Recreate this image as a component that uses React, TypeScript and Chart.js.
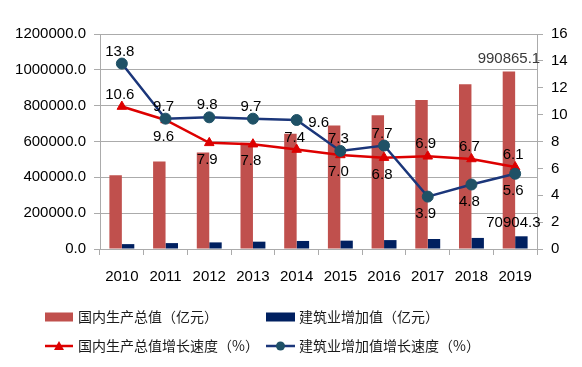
import React, { useEffect, useRef } from 'react';
import { Chart, registerables } from 'chart.js';

Chart.register(...registerables);

// ---- data ----
const years = ['2010', '2011', '2012', '2013', '2014', '2015', '2016', '2017', '2018', '2019'];
const gdpValue = [412119.3, 487940.2, 538580.0, 592963.2, 643563.1, 688858.2, 746395.1, 832035.9, 919281.1, 990865.1];
const constructionValue = [27259.3, 32926.5, 36896.1, 40896.8, 44880.5, 46626.7, 49702.9, 55689.0, 61808.0, 70904.3];
const gdpGrowth = [10.6, 9.6, 7.9, 7.8, 7.4, 7.0, 6.8, 6.9, 6.7, 6.1];
const constructionGrowth = [13.8, 9.7, 9.8, 9.7, 9.6, 7.3, 7.7, 3.9, 4.8, 5.6];
const leftTicks = [0, 200000, 400000, 600000, 800000, 1000000, 1200000];
const rightTicks = [0, 2, 4, 6, 8, 10, 12, 14, 16];

const seriesNames = [
  '国内生产总值（亿元）',
  '建筑业增加值（亿元）',
  '国内生产总值增长速度（%）',
  '建筑业增加值增长速度（%）',
];

// label placement for line points
const gdpGrowthLabelPos = ['above', 'below', 'below', 'below', 'above', 'below', 'below', 'above', 'above', 'above'];
const constructionGrowthLabelPos = ['above', 'above', 'above', 'above', 'right', 'above', 'above', 'below', 'below', 'below'];

const RED_BAR = '#C0504D';
const BLUE_BAR = '#002060';
const RED_LINE = '#DD0000';
const BLUE_LINE = '#1B367A';
const BLUE_MARK = '#1F5166';
const GRID = '#ababab';
const FONT = '"Liberation Sans", Arial, sans-serif';
const CJK = '"Noto Sans CJK SC", "Liberation Sans", sans-serif';

const labelPlugin = {
  id: 'valueLabels',
  afterDatasetsDraw(chart: any) {
    const ctx = chart.ctx;
    ctx.save();
    ctx.font = '15px ' + FONT;
    ctx.textAlign = 'center';
    ctx.textBaseline = 'middle';
    const lineSpecs: [number, string[]][] = [
      [2, gdpGrowthLabelPos],
      [3, constructionGrowthLabelPos],
    ];
    lineSpecs.forEach(([di, pos]) => {
      const meta = chart.getDatasetMeta(di);
      const data = chart.data.datasets[di].data as number[];
      meta.data.forEach((pt: any, i: number) => {
        const p = pos[i];
        let x = pt.x;
        let y = pt.y;
        if (p === 'above') y -= 12;
        else if (p === 'below') y += 17;
        else if (p === 'right') {
          x += 24;
          y += 3;
        }
        ctx.fillStyle = '#000';
        ctx.fillText(data[i].toFixed(1), x - 2, y);
      });
    });
    const barSpecs: [number, number, string][] = [
      [0, 0, '#3a3a3a'],
      [1, -8, '#000'],
    ];
    barSpecs.forEach(([di, dx, color]) => {
      const meta = chart.getDatasetMeta(di);
      const data = chart.data.datasets[di].data as number[];
      const last = data.length - 1;
      const bar = meta.data[last];
      ctx.fillStyle = color;
      ctx.fillText(data[last].toFixed(1), bar.x + dx, bar.y - 13);
    });
    ctx.restore();
  },
};

const legendPlugin = {
  id: 'customLegend',
  afterDraw(chart: any) {
    const ctx = chart.ctx;
    ctx.save();
    ctx.font = '14px ' + CJK;
    ctx.textBaseline = 'middle';
    ctx.textAlign = 'left';
    const col1 = 45;
    const col2 = 266;
    const row1 = 317;
    const row2 = 346;
    ctx.fillStyle = RED_BAR;
    ctx.fillRect(col1, row1 - 4.5, 28, 9);
    ctx.fillStyle = BLUE_BAR;
    ctx.fillRect(col2, row1 - 4.5, 29, 9);
    ctx.lineWidth = 2.5;
    ctx.strokeStyle = RED_LINE;
    ctx.beginPath();
    ctx.moveTo(col1, row2);
    ctx.lineTo(col1 + 28, row2);
    ctx.stroke();
    ctx.fillStyle = RED_LINE;
    ctx.beginPath();
    ctx.moveTo(col1 + 14, row2 - 5);
    ctx.lineTo(col1 + 19, row2 + 4);
    ctx.lineTo(col1 + 9, row2 + 4);
    ctx.closePath();
    ctx.fill();
    ctx.strokeStyle = BLUE_LINE;
    ctx.beginPath();
    ctx.moveTo(col2, row2);
    ctx.lineTo(col2 + 29, row2);
    ctx.stroke();
    ctx.fillStyle = BLUE_MARK;
    ctx.beginPath();
    ctx.arc(col2 + 14.5, row2, 4.5, 0, Math.PI * 2);
    ctx.fill();
    ctx.fillStyle = '#1a1a1a';
    ctx.fillText(seriesNames[0], col1 + 33, row1);
    ctx.fillText(seriesNames[1], col2 + 33, row1);
    ctx.fillText(seriesNames[2], col1 + 33, row2);
    ctx.fillText(seriesNames[3], col2 + 33, row2);
    ctx.restore();
  },
};

export default function App() {
  const canvasRef = useRef<HTMLCanvasElement | null>(null);

  useEffect(() => {
    document.body.style.margin = '0';
    const canvas = canvasRef.current;
    if (!canvas) return;
    const chart = new Chart(canvas, {
      type: 'bar',
      data: {
        labels: years,
        datasets: [
          {
            type: 'bar',
            label: seriesNames[0],
            data: gdpValue,
            backgroundColor: RED_BAR,
            yAxisID: 'y',
            order: 3,
            categoryPercentage: 0.57,
            barPercentage: 1,
          },
          {
            type: 'bar',
            label: seriesNames[1],
            data: constructionValue,
            backgroundColor: BLUE_BAR,
            yAxisID: 'y',
            order: 3,
            categoryPercentage: 0.57,
            barPercentage: 1,
          },
          {
            type: 'line',
            label: seriesNames[2],
            data: gdpGrowth,
            borderColor: RED_LINE,
            backgroundColor: RED_LINE,
            borderWidth: 2.5,
            pointStyle: 'triangle',
            pointRadius: 5.5,
            pointBorderWidth: 1,
            pointBorderColor: RED_LINE,
            yAxisID: 'y1',
            order: 2,
          },
          {
            type: 'line',
            label: seriesNames[3],
            data: constructionGrowth,
            borderColor: BLUE_LINE,
            backgroundColor: BLUE_MARK,
            borderWidth: 2.5,
            pointStyle: 'circle',
            pointRadius: 5.5,
            pointBorderWidth: 1,
            pointBorderColor: BLUE_MARK,
            yAxisID: 'y1',
            order: 1,
          },
        ],
      } as any,
      options: {
        responsive: false,
        animation: false,
        layout: { padding: { top: 34, bottom: 78, left: 0, right: 0 } },
        plugins: {
          legend: { display: false },
          tooltip: { enabled: false },
        },
        scales: {
          x: {
            offset: true,
            grid: {
              offset: true,
              drawOnChartArea: false,
              drawTicks: true,
              tickLength: 6,
              color: GRID,
            },
            border: { color: GRID },
            ticks: {
              color: '#000',
              font: { size: 15, family: FONT },
              padding: 13,
              maxRotation: 0,
            },
            afterFit: (s: any) => {
              s.height = 40;
            },
          },
          y: {
            position: 'left',
            min: 0,
            max: leftTicks[leftTicks.length - 1],
            afterBuildTicks: (s: any) => {
              s.ticks = leftTicks.map((v) => ({ value: v }));
            },
            grid: { color: GRID, tickLength: 6, lineWidth: 1 },
            border: { color: GRID },
            ticks: {
              color: '#000',
              font: { size: 15, family: FONT },
              padding: 8,
              callback: (v: any) => Number(v).toFixed(1),
            },
            afterFit: (s: any) => {
              s.width = 100;
            },
          },
          y1: {
            position: 'right',
            min: 0,
            max: rightTicks[rightTicks.length - 1],
            afterBuildTicks: (s: any) => {
              s.ticks = rightTicks.map((v) => ({ value: v }));
            },
            grid: { drawOnChartArea: false, color: GRID, tickLength: 6 },
            border: { color: GRID },
            ticks: {
              color: '#000',
              font: { size: 15, family: FONT },
              padding: 8,
            },
            afterFit: (s: any) => {
              s.width = 45;
            },
          },
        },
      } as any,
      plugins: [labelPlugin, legendPlugin],
    });
    return () => chart.destroy();
  }, []);

  return (
    <div style={{ width: 582, height: 367, background: '#fff' }}>
      <canvas ref={canvasRef} width={582} height={367} style={{ display: 'block' }} />
    </div>
  );
}
